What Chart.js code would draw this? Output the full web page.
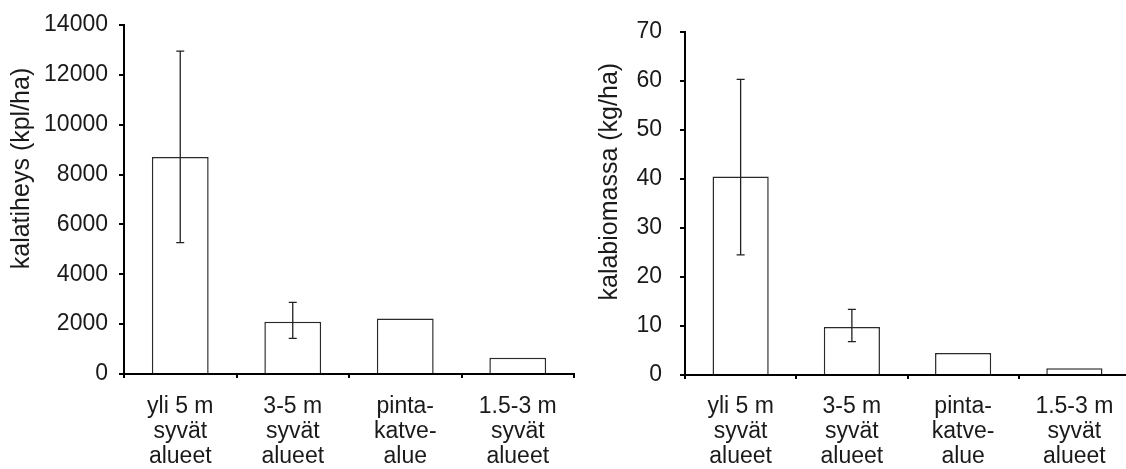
<!DOCTYPE html>
<html>
<head>
<meta charset="utf-8">
<script src="https://cdn.jsdelivr.net/npm/chart.js@4.4.1/dist/chart.umd.min.js"></script>
<style>
    html, body { margin: 0; padding: 0; background: #fff; overflow: hidden; }
    #wrap { position: relative; width: 1126px; height: 469px; }
    #densityChart { position: absolute; left: 0; top: 0; }
    #biomassChart { position: absolute; left: 580px; top: 0; }
</style>
</head>
<body>
<div id="wrap">
    <canvas id="densityChart" width="580" height="469"></canvas>
    <canvas id="biomassChart" width="550" height="469"></canvas>
</div>
<script>
var categories = [
    ['yli 5 m', 'syvät', 'alueet'],
    ['3-5 m', 'syvät', 'alueet'],
    ['pinta-', 'katve-', 'alue'],
    ['1.5-3 m', 'syvät', 'alueet']
];

var densityValues = [8700, 2100, 2230, 650];
var densityLow = [5270, 1430, null, null];
var densityHigh = [12950, 2870, null, null];
var densityTitle = 'kalatiheys (kpl/ha)';

var biomassValues = [40.5, 9.8, 4.5, 1.4];
var biomassLow = [24.5, 6.8, null, null];
var biomassHigh = [60.3, 13.4, null, null];
var biomassTitle = 'kalabiomassa (kg/ha)';

var fontName = '"Liberation Sans", Arial, sans-serif';
var inkColor = '#1a1a1a';

// whiskers drawn from the low/high arrays on top of each bar
var errorBars = {
    id: 'errorBars',
    afterDatasetsDraw: function (chart, args, opts) {
        var ctx = chart.ctx;
        var meta = chart.getDatasetMeta(0);
        var yScale = chart.scales.y;
        ctx.save();
        ctx.strokeStyle = '#222';
        ctx.lineWidth = 1.3;
        for (var i = 0; i < meta.data.length; i++) {
            if (opts.low[i] == null) continue;
            var x = meta.data[i].x;
            var yLo = yScale.getPixelForValue(opts.low[i]);
            var yHi = yScale.getPixelForValue(opts.high[i]);
            ctx.beginPath();
            ctx.moveTo(x, yLo);
            ctx.lineTo(x, yHi);
            ctx.moveTo(x - 4, yLo);
            ctx.lineTo(x + 4, yLo);
            ctx.moveTo(x - 4, yHi);
            ctx.lineTo(x + 4, yHi);
            ctx.stroke();
        }
        ctx.restore();
    }
};

// rotated axis caption, sitting a bit above the middle of the axis
var sideTitle = {
    id: 'sideTitle',
    afterDraw: function (chart, args, opts) {
        var ctx = chart.ctx;
        ctx.save();
        ctx.font = '25px ' + fontName;
        ctx.fillStyle = inkColor;
        ctx.textAlign = 'center';
        ctx.textBaseline = 'middle';
        ctx.translate(opts.x, opts.y);
        ctx.rotate(-Math.PI / 2);
        ctx.fillText(opts.text, 0, 0);
        ctx.restore();
    }
};

function drawPanel(canvasId, values, low, high, yMax, yStep, cfg) {
    var ctx = document.getElementById(canvasId).getContext('2d');
    return new Chart(ctx, {
        type: 'bar',
        data: {
            labels: categories,
            datasets: [{
                data: values,
                backgroundColor: '#ffffff',
                borderColor: '#2a2a2a',
                borderWidth: 1.5,
                categoryPercentage: 1,
                barPercentage: 0.505
            }]
        },
        options: {
            responsive: false,
            animation: false,
            devicePixelRatio: 1,
            layout: { padding: { left: 0, right: cfg.padRight, top: cfg.padTop, bottom: 0 } },
            plugins: {
                legend: { display: false },
                tooltip: { enabled: false },
                errorBars: { low: low, high: high },
                sideTitle: { text: cfg.title, x: cfg.titleX, y: cfg.titleY }
            },
            scales: {
                x: {
                    afterFit: function (scale) { scale.height = cfg.xHeight; },
                    border: { display: true, color: '#000', width: 2 },
                    grid: {
                        offset: true,
                        drawOnChartArea: false,
                        drawTicks: true,
                        tickLength: 4,
                        color: '#000',
                        lineWidth: 2
                    },
                    ticks: {
                        color: inkColor,
                        padding: cfg.xPad,
                        maxRotation: 0,
                        autoSkip: false,
                        font: { family: fontName, size: 23, lineHeight: 25 / 23 }
                    }
                },
                y: {
                    min: 0,
                    max: yMax,
                    afterFit: function (scale) { scale.width = cfg.yWidth; },
                    border: { display: true, color: '#000', width: 2 },
                    grid: {
                        drawOnChartArea: false,
                        drawTicks: true,
                        tickLength: 5,
                        color: '#000',
                        lineWidth: 2
                    },
                    ticks: {
                        stepSize: yStep,
                        color: inkColor,
                        padding: cfg.yPad,
                        font: { family: fontName, size: 23 },
                        callback: function (v) { return String(v); }
                    }
                }
            }
        },
        plugins: [errorBars, sideTitle]
    });
}

drawPanel('densityChart', densityValues, densityLow, densityHigh, 14000, 2000, {
    title: densityTitle, titleX: 22.5, titleY: 168.5,
    padTop: 25, padRight: 6, xHeight: 95, yWidth: 124, xPad: 16, yPad: 11
});

drawPanel('biomassChart', biomassValues, biomassLow, biomassHigh, 70, 10, {
    title: biomassTitle, titleX: 30, titleY: 181.7,
    padTop: 24, padRight: 0, xHeight: 94, yWidth: 105, xPad: 15, yPad: 18
});
</script>
</body>
</html>
